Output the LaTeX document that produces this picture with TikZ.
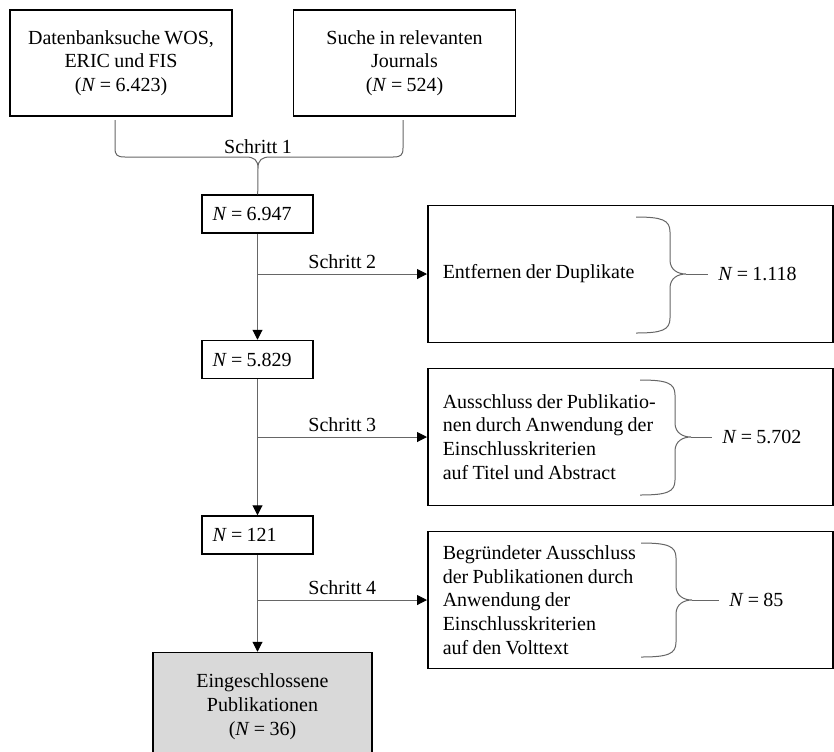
\documentclass[tikz,border=0pt]{standalone}
\usepackage{fontspec}
\setmainfont{Liberation Serif}[WordSpace=0.85]
\usetikzlibrary{arrows.meta,positioning}

\begin{document}
\begin{tikzpicture}[
    x=0.5pt, y=-0.5pt,
    font=\fontsize{10}{11.9}\selectfont,
    srcbox/.style={draw=black, line width=0.75pt, align=center, minimum width=111pt,
      minimum height=53pt, inner sep=2pt},
    numbox/.style={draw=black, line width=0.75pt, align=flush left, text width=45pt,
      inner xsep=5.25pt, inner ysep=2pt, minimum height=19pt},
    rembox/.style={draw=black, line width=0.75pt, align=flush left, text width=187.5pt,
      inner xsep=7.5pt, minimum height=68.5pt, anchor=west},
    endbox/.style={draw=black, line width=0.75pt, fill=black!15, align=center,
      minimum width=109.5pt, minimum height=54pt},
    cnt/.style={anchor=west, inner xsep=5pt, inner ysep=0pt},
    stp/.style={above, inner sep=2.5pt, text=black},
    lin/.style={black!60, line width=0.5pt},
    arr/.style={-{Triangle[length=5pt,width=5pt,color=black]}, black!60, line width=0.5pt}
  ]
    \useasboundingbox (0,0) rectangle (834,751);
    \clip (0,0) rectangle (834,751);

    % quellen
    \node[srcbox] (dbs) at (121,63) {Datenbanksuche WOS,\\ERIC und FIS\\(\textit{N} = 6.423)};
    \node[srcbox, right=30pt of dbs] (jrn) {Suche in relevanten\\Journals\\(\textit{N} = 524)};

    % hauptspalte
    \node[numbox] (n1) at (257.5,214) {\textit{N} = 6.947};
    \node[numbox, below=53pt of n1] (n2) {\textit{N} = 5.829};
    \node[numbox, below=68pt of n2] (n3) {\textit{N} = 121};
    \node[endbox, below=48.5pt of n3, xshift=2.5pt] (incl) {Eingeschlossene\\Publikationen\\(\textit{N} = 36)};

    % ausschluesse
    \node[rembox] (dup) at (427,274) {Entfernen der Duplikate};
    \node[rembox] (tia) at (427,437) {Ausschluss der Publikatio-\\nen durch Anwendung der\\Einschlusskriterien\\auf Titel und Abstract};
    \node[rembox] (vol) at (427,600) {Begründeter Ausschluss\\der Publikationen durch\\Anwendung der\\Einschlusskriterien\\auf den Volttext};

    \node[cnt] (k1) at (708,274) {\textit{N} = 1.118};
    \node[cnt] (k2) at (712,437) {\textit{N} = 5.702};
    \node[cnt] (k3) at (719,600) {\textit{N} = 85};

    % schritt 1
    \draw[lin] (115,120) -- (115,148) .. controls (115,155) and (117,157) .. (125,157) -- (246,157)
      .. controls (254,157) and (258,160) .. (258,168)
      .. controls (258,160) and (262,157) .. (270,157) -- (393,157)
      .. controls (401,157) and (403,155) .. (403,148) -- (403,120);
    \coordinate (cusp) at (258,168);
    \node (s1) at (258,147) {Schritt 1};
    \draw[lin] (cusp) -- (n1);

    \draw[arr] (n1) -- (n2);
    \draw[arr] (n2) -- (n3);
    \draw[arr] (n3) -- (n3 |- incl.north);
    \draw[arr] (n1 |- dup.west) -- node[stp] {Schritt 2} (dup.west);
    \draw[arr] (n2 |- tia.west) -- node[stp] {Schritt 3} (tia.west);
    \draw[arr] (n3 |- vol.west) -- node[stp] {Schritt 4} (vol.west);

    % klammern
    \draw[lin] (636,217) .. controls (662,217) and (670,220) .. (670,232) -- (670,260)
      .. controls (670,270) and (678,274) .. (686,274)
      .. controls (678,274) and (670,278) .. (670,288) -- (670,318)
      .. controls (670,330) and (662,333) .. (636,333);
    \coordinate (p1) at (686,274);
    \draw[lin] (p1) -- (k1);

    \draw[lin] (640,380) .. controls (667,380) and (675,383) .. (675,395) -- (675,423)
      .. controls (675,433) and (683,437) .. (691,437)
      .. controls (683,437) and (675,441) .. (675,451) -- (675,480)
      .. controls (675,492) and (667,495) .. (640,495);
    \coordinate (p2) at (691,437);
    \draw[lin] (p2) -- (k2);

    \draw[lin] (641,543) .. controls (668,543) and (676,546) .. (676,558) -- (676,586)
      .. controls (676,596) and (684,600) .. (692,600)
      .. controls (684,600) and (676,604) .. (676,614) -- (676,642)
      .. controls (676,654) and (668,657) .. (641,657);
    \coordinate (p3) at (692,600);
    \draw[lin] (p3) -- (k3);
  \end{tikzpicture}
\end{document}
